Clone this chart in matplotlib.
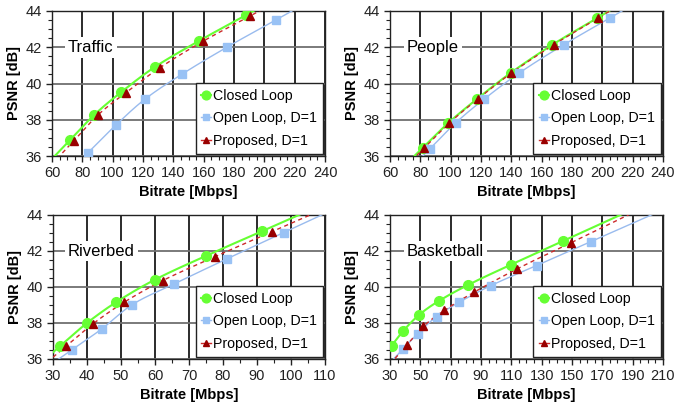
import numpy as np
import matplotlib
matplotlib.use("Agg")
import matplotlib.pyplot as plt
import matplotlib.transforms as mtransforms
from matplotlib.ticker import MultipleLocator, FixedLocator

plt.rcParams['font.family'] = ['Liberation Sans', 'DejaVu Sans']

# ---------------- data ----------------
traffic_closed_x = [71.7, 88.0, 105.7, 127.8, 156.7, 187.6]
traffic_closed_y = [36.86, 38.28, 39.53, 40.91, 42.34, 43.76]
traffic_open_x = [83.8, 101.9, 121.2, 145.6, 175.5, 207.9]
traffic_open_y = [36.18, 37.69, 39.13, 40.51, 42.01, 43.52]
traffic_prop_x = [74.3, 90.5, 108.6, 131.1, 159.8, 190.5]
traffic_prop_y = [36.83, 38.28, 39.49, 40.87, 42.34, 43.72]

people_closed_x = [81.5, 98.4, 117.1, 139.5, 167.1, 196.6]
people_closed_y = [36.44, 37.82, 39.13, 40.58, 42.14, 43.61]
people_open_x = [86.3, 103.2, 121.9, 145.2, 174.6, 204.9]
people_open_y = [36.39, 37.82, 39.13, 40.58, 42.14, 43.61]
people_prop_x = [82.6, 99.1, 117.7, 140.1, 168.0, 197.2]
people_prop_y = [36.44, 37.82, 39.13, 40.58, 42.14, 43.61]

riverbed_closed_x = [32.0, 40.0, 48.6, 59.9, 75.0, 91.6]
riverbed_closed_y = [36.70, 38.00, 39.16, 40.40, 41.73, 43.11]
riverbed_open_x = [35.6, 44.4, 53.2, 65.5, 81.1, 97.8]
riverbed_open_y = [36.52, 37.68, 39.01, 40.16, 41.56, 43.02]
riverbed_prop_x = [33.8, 41.8, 50.8, 62.3, 77.7, 94.5]
riverbed_prop_y = [36.70, 37.96, 39.14, 40.36, 41.69, 43.08]

basket_closed_x = [31.1, 38.8, 49.3, 62.3, 81.6, 109.5, 144.2]
basket_closed_y = [36.74, 37.57, 38.46, 39.23, 40.12, 41.23, 42.56]
basket_open_x = [38.8, 48.2, 60.7, 75.4, 96.3, 126.6, 162.4]
basket_open_y = [36.57, 37.40, 38.36, 39.14, 40.07, 41.19, 42.52]
basket_prop_x = [41.4, 51.95, 65.8, 85.4, 113.9, 149.6]
basket_prop_y = [36.80, 37.81, 38.70, 39.71, 41.01, 42.47]

names = ["Traffic", "People", "Riverbed", "Basketball"]
xticks_list = [
    [60, 80, 100, 120, 140, 160, 180, 200, 220, 240],
    [60, 80, 100, 120, 140, 160, 180, 200, 220, 240],
    [30, 40, 50, 60, 70, 80, 90, 100, 110],
    [30, 50, 70, 90, 110, 130, 150, 170, 190, 210],
]
yticks = [36, 38, 40, 42, 44]
series_labels = ["Closed Loop", "Open Loop, D=1", "Proposed, D=1"]

panels = [
    [(traffic_closed_x, traffic_closed_y), (traffic_open_x, traffic_open_y), (traffic_prop_x, traffic_prop_y)],
    [(people_closed_x, people_closed_y), (people_open_x, people_open_y), (people_prop_x, people_prop_y)],
    [(riverbed_closed_x, riverbed_closed_y), (riverbed_open_x, riverbed_open_y), (riverbed_prop_x, riverbed_prop_y)],
    [(basket_closed_x, basket_closed_y), (basket_open_x, basket_open_y), (basket_prop_x, basket_prop_y)],
]


def smooth_curve(xs, ys, x0, x1, n=60):
    """Cubic Hermite through the points, extended linearly to the axis range."""
    xs = np.asarray(xs, float); ys = np.asarray(ys, float)
    k = len(xs)
    m = np.zeros(k)
    m[0] = (ys[1] - ys[0]) / (xs[1] - xs[0])
    m[-1] = (ys[-1] - ys[-2]) / (xs[-1] - xs[-2])
    for i in range(1, k - 1):
        m[i] = (ys[i + 1] - ys[i - 1]) / (xs[i + 1] - xs[i - 1])
    outx, outy = [x0, xs[0]], [ys[0] + m[0] * (x0 - xs[0]), ys[0]]
    for i in range(k - 1):
        h = xs[i + 1] - xs[i]
        t = np.linspace(0, 1, n)[1:]
        h00 = 2 * t**3 - 3 * t**2 + 1
        h10 = t**3 - 2 * t**2 + t
        h01 = -2 * t**3 + 3 * t**2
        h11 = t**3 - t**2
        outx.extend(xs[i] + t * h)
        outy.extend(h00 * ys[i] + h10 * h * m[i] + h01 * ys[i + 1] + h11 * h * m[i + 1])
    outx.append(x1)
    outy.append(ys[-1] + m[-1] * (x1 - xs[-1]))
    return np.array(outx), np.array(outy)


# ---------------- styles ----------------
styles = [
    dict(color='#66FF33', lw=1.5, ls='-', marker='o', ms=7, mfc='#66FF33', mec='#66FF33'),
    dict(color='#99BBEE', lw=1.0, ls='-', marker='s', ms=5.5, mfc='#99C2F5', mec='#99C2F5'),
    dict(color='#CC2a2a', lw=1.0, ls=(0, (3, 2.5)), marker='^', ms=5.5, mfc='#990000', mec='#990000'),
]

W, H = 675, 408
fig = plt.figure(figsize=(W / 100, H / 100), dpi=100)
boxes = [(52, 11, 325, 156), (390, 11, 663, 156), (53, 215, 325, 359), (390, 215, 663, 359)]
label_x = [0.059, 0.062, 0.055, 0.062]

for i, (name, xt, series) in enumerate(zip(names, xticks_list, panels)):
    l, t, r, b = boxes[i]
    ax = fig.add_axes([l / W, 1 - b / H, (r - l) / W, (b - t) / H])
    x0, x1 = xt[0], xt[-1]
    ax.set_xlim(x0, x1)
    ax.set_ylim(yticks[0], yticks[-1])
    handles = []
    for (xs, ys), st, lab in zip(series, styles, series_labels):
        xx, yy = smooth_curve(xs, ys, x0, x1)
        ax.plot(xx, yy, color=st['color'], lw=st['lw'], ls=st['ls'], zorder=3)
        ax.plot(xs, ys, ls='none', marker=st['marker'], ms=st['ms'],
                mfc=st['mfc'], mec=st['mec'], zorder=4)
        h, = ax.plot([], [], color=st['color'], lw=st['lw'], ls='-', marker=st['marker'],
                     ms=st['ms'] * 0.9, mfc=st['mfc'], mec=st['mec'])
        handles.append(h)
    ax.xaxis.set_major_locator(FixedLocator(xt))
    ax.xaxis.set_minor_locator(MultipleLocator(5))
    ax.yaxis.set_major_locator(FixedLocator(yticks))
    ax.yaxis.set_minor_locator(MultipleLocator(0.5))
    ax.xaxis.grid(True, which='major', color='#1a1a1a', lw=1.3, zorder=0)
    ax.yaxis.grid(True, which='major', color='#707070', lw=1.3, zorder=0)
    ax.set_axisbelow(True)
    for s in ax.spines.values():
        s.set_color('#222222'); s.set_linewidth(1.0)
    ax.tick_params(which='major', direction='out', length=4, width=1, labelsize=10.5, pad=3.5, colors='#222222')
    ax.tick_params(which='minor', direction='out', length=3, width=0.8, colors='#222222')
    ax.set_xlabel("Bitrate [Mbps]", fontsize=10.5, fontweight='bold', labelpad=3)
    ax.set_ylabel("PSNR [dB]", fontsize=10.5, fontweight='bold', labelpad=3)
    ax.text(label_x[i], 42, name,
            transform=mtransforms.blended_transform_factory(ax.transAxes, ax.transData),
            fontsize=12, va='center', ha='left', zorder=5,
            bbox=dict(facecolor='white', edgecolor='none', pad=2))
    leg = ax.legend(handles, series_labels, loc='lower right', fontsize=10.2,
                    handlelength=0.7, handletextpad=0.15, borderpad=0.4, labelspacing=0.62,
                    borderaxespad=0.15, fancybox=False, framealpha=1, edgecolor='#222222')
    leg.get_frame().set_linewidth(1.0)
    leg.set_zorder(6)

fig.savefig("out.png", dpi=100)
